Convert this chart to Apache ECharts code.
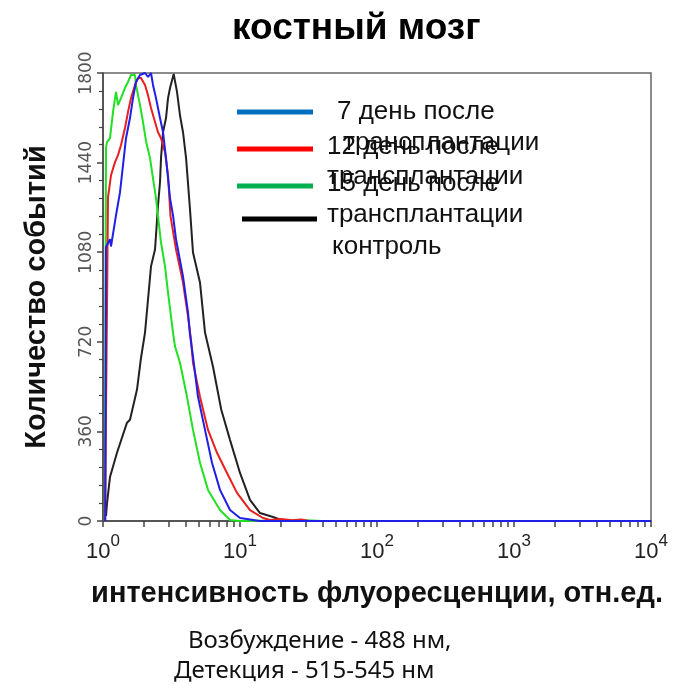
<!DOCTYPE html>
<html>
<head>
<meta charset="utf-8">
<script src="https://cdn.jsdelivr.net/npm/echarts@6/dist/echarts.min.js"></script>
<style>
  html, body { margin: 0; padding: 0; background: #fff; }
  #chart { width: 683px; height: 688px; }
</style>
</head>
<body>
<div id="chart"></div>
<script>
// --- data: [intensity, events] ---
var day7 = [[1.04,0],[1.05,1100],[1.125,1132],[1.144,1103],[1.244,1228],[1.331,1321],[1.40,1430],[1.472,1538],[1.574,1619],[1.656,1699],[1.741,1764],[1.863,1792],[2.026,1800],[2.131,1784],[2.241,1800],[2.317,1752],[2.437,1699],[2.607,1619],[2.742,1562],[2.884,1458],[3.085,1297],[3.244,1228],[3.412,1132],[3.837,983],[4.173,838],[4.315,749],[4.539,660],[4.936,499],[5.554,366],[6.246,234],[7.145,125],[8.453,44],[10,12],[14,0],[10000,0]];
var day12 = [[1.034,0],[1.088,1300],[1.144,1389],[1.224,1442],[1.287,1470],[1.353,1510],[1.447,1579],[1.522,1643],[1.601,1699],[1.712,1752],[1.801,1780],[1.894,1780],[2.026,1752],[2.131,1711],[2.241,1659],[2.397,1603],[2.521,1562],[2.651,1538],[2.836,1482],[2.983,1389],[3.11,1225],[3.412,1091],[3.837,958],[4.173,822],[4.388,729],[4.539,636],[5.105,499],[5.841,366],[6.794,274],[8.037,193],[9.508,113],[11.83,44],[14.72,12],[16.56,4],[20,8],[24,3],[28,6],[32,0]];
var day15 = [[1.03,0],[1.052,1500],[1.07,1522],[1.125,1538],[1.183,1643],[1.244,1724],[1.287,1671],[1.353,1699],[1.447,1740],[1.522,1764],[1.601,1792],[1.712,1792],[1.741,1752],[1.863,1671],[1.959,1603],[2.061,1526],[2.204,1458],[2.317,1377],[2.437,1297],[2.521,1224],[2.651,1119],[2.836,1023],[2.983,918],[3.244,757],[3.355,701],[3.648,636],[4.104,499],[4.539,366],[5.105,234],[5.841,125],[7.145,44],[8.453,4],[10,0],[30,3],[40,0]];
var control = [[1.052,20],[1.07,72],[1.125,177],[1.265,274],[1.497,395],[1.574,407],[1.771,528],[1.894,655],[2.026,757],[2.131,890],[2.241,1023],[2.397,1091],[2.521,1268],[2.607,1361],[2.651,1458],[2.742,1562],[2.884,1619],[2.983,1699],[3.085,1740],[3.28,1796],[3.469,1724],[3.648,1630],[3.837,1562],[4.04,1458],[4.173,1357],[4.315,1252],[4.539,1079],[5.105,958],[5.554,757],[6.352,620],[7.3,447],[8.453,326],[10,193],[11.83,85],[14,32],[17.41,16],[20,4],[24,0]];

var seriesNames = ['7 день после трансплантации', '12 день после трансплантации', '15 день после трансплантации', 'контроль'];
var curveColors = ['#1f1fe6', '#e82020', '#22e022', '#222222'];
var legendColors = ['#0070c0', '#ff0000', '#00b050', '#000000'];
var yTicks = [0, 360, 720, 1080, 1440, 1800];
var decadeExps = [0, 1, 2, 3, 4];

// minor ticks 1..9 in every decade
var xTickVals = [];
decadeExps.forEach(function (e) {
  for (var m = 1; m <= 9; m++) {
    var v = m * Math.pow(10, e);
    if (v <= 10000) xTickVals.push(v);
  }
});

var chart = echarts.init(document.getElementById('chart'));

var legendFont = '26px "Liberation Sans", Arial, sans-serif';
var captionFont = '24px "Noto Sans", "Open Sans", sans-serif';
function txt(x, y, s, font) {
  return { type: 'text', x: x, y: y, style: { text: s, font: font, fill: '#111', verticalAlign: 'middle' } };
}
function legendLine(x1, x2, y, c) {
  return { type: 'line', shape: { x1: x1, y1: y, x2: x2, y2: y }, style: { stroke: c, lineWidth: 5 } };
}

var option = {
  backgroundColor: '#fff',
  animation: false,
  title: {
    text: 'костный мозг',
    left: 227,
    top: 5,
    textStyle: { fontFamily: '"Liberation Sans", Arial', fontWeight: 'bold', fontSize: 37, color: '#000' }
  },
  grid: { left: 103, right: 32, top: 73, bottom: 167, show: true, borderColor: '#666', borderWidth: 1.5 },
  xAxis: {
    type: 'log',
    logBase: 10,
    min: 1,
    max: 10000,
    name: 'интенсивность флуоресценции, отн.ед.',
    nameLocation: 'middle',
    nameGap: 58,
    nameTextStyle: { fontFamily: '"Liberation Sans", Arial', fontWeight: 'bold', fontSize: 29, color: '#111' },
    axisLine: { lineStyle: { color: '#444', width: 1.5 } },
    axisTick: { show: true, length: 6, customValues: xTickVals, lineStyle: { color: '#444', width: 1.5 } },
    splitLine: { show: false },
    axisLabel: {
      margin: 12,
      formatter: function (v) {
        return '{a|10}{b|' + Math.round(Math.log10(v)) + '}';
      },
      rich: {
        a: { fontFamily: '"Liberation Sans", Arial', fontSize: 22, color: '#222', lineHeight: 30, verticalAlign: 'bottom' },
        b: { fontFamily: '"Liberation Sans", Arial', fontSize: 17, color: '#222', verticalAlign: 'top', lineHeight: 30 }
      }
    }
  },
  yAxis: {
    type: 'value',
    min: 0,
    max: 1800,
    interval: 360,
    name: 'Количество событий',
    nameLocation: 'middle',
    nameGap: 52,
    nameTextStyle: { fontFamily: '"Liberation Sans", Arial', fontWeight: 'bold', fontSize: 29, color: '#111' },
    axisLine: { show: true, lineStyle: { color: '#444', width: 1.5 } },
    axisTick: { show: true, length: 6, lineStyle: { color: '#444', width: 1.5 } },
    minorTick: { show: true, splitNumber: 5, length: 4, lineStyle: { color: '#444', width: 1.2 } },
    splitLine: { show: false },
    axisLabel: {
      rotate: 90,
      margin: 8,
      fontFamily: '"DejaVu Sans", sans-serif',
      fontSize: 17,
      color: '#555',
      formatter: function (v) { return yTicks.indexOf(v) >= 0 ? String(v) : ''; }
    }
  },
  series: [
    { name: seriesNames[3], type: 'line', data: control, showSymbol: false, lineStyle: { color: curveColors[3], width: 2 } },
    { name: seriesNames[2], type: 'line', data: day15, showSymbol: false, lineStyle: { color: curveColors[2], width: 2 } },
    { name: seriesNames[1], type: 'line', data: day12, showSymbol: false, lineStyle: { color: curveColors[1], width: 2 } },
    { name: seriesNames[0], type: 'line', data: day7, showSymbol: false, lineStyle: { color: curveColors[0], width: 2 } }
  ],
  graphic: [
    legendLine(237, 313, 112, legendColors[0]),
    legendLine(237, 313, 149, legendColors[1]),
    legendLine(237, 313, 186, legendColors[2]),
    legendLine(242, 317, 219, legendColors[3]),
    txt(337, 112, '7 день после', legendFont),
    txt(343, 143, 'трансплантации', legendFont),
    txt(327, 147, '12 день после', legendFont),
    txt(327, 177, 'трансплантации', legendFont),
    txt(327, 184, '15 день после', legendFont),
    txt(327, 215, 'трансплантации', legendFont),
    txt(332, 247, 'контроль', legendFont),
    txt(188, 641, 'Возбуждение - 488 нм,', captionFont),
    txt(174, 671, 'Детекция - 515-545 нм', captionFont)
  ]
};

chart.setOption(option);
</script>
</body>
</html>
